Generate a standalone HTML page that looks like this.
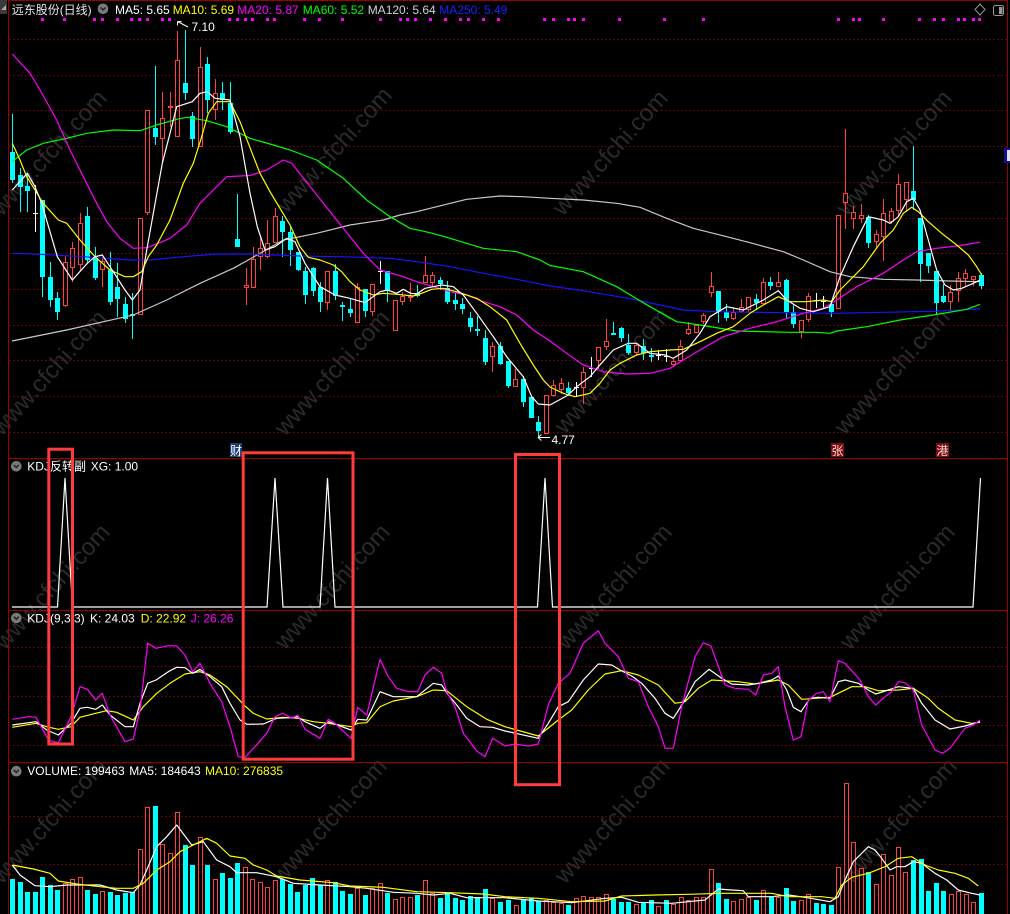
<!DOCTYPE html>
<html><head><meta charset="utf-8">
<style>
html,body{margin:0;padding:0;background:#000;overflow:hidden;}
svg{display:block;}
text{font-family:"Liberation Sans","Noto Sans CJK SC",sans-serif;font-size:12px;}
.wm text{font-size:24px;fill:#2a2a2a;}
</style></head><body>
<svg id="c" width="1010" height="914" viewBox="0 0 1010 914" xmlns="http://www.w3.org/2000/svg">
<rect width="1010" height="914" fill="#000"/>
<!-- watermarks -->
<g class="wm" text-anchor="middle">
<text transform="translate(55,158) rotate(-48)">www.cfchi.com</text>
<text transform="translate(340,155) rotate(-48)">www.cfchi.com</text>
<text transform="translate(616,158) rotate(-48)">www.cfchi.com</text>
<text transform="translate(900,158) rotate(-48)">www.cfchi.com</text>
<text transform="translate(55,378) rotate(-48)">www.cfchi.com</text>
<text transform="translate(338,378) rotate(-48)">www.cfchi.com</text>
<text transform="translate(618,376) rotate(-48)">www.cfchi.com</text>
<text transform="translate(898,377) rotate(-48)">www.cfchi.com</text>
<text transform="translate(58,592) rotate(-48)">www.cfchi.com</text>
<text transform="translate(338,592) rotate(-48)">www.cfchi.com</text>
<text transform="translate(620,592) rotate(-48)">www.cfchi.com</text>
<text transform="translate(903,592) rotate(-48)">www.cfchi.com</text>
<text transform="translate(55,826) rotate(-48)">www.cfchi.com</text>
<text transform="translate(335,826) rotate(-48)">www.cfchi.com</text>
<text transform="translate(618,826) rotate(-48)">www.cfchi.com</text>
<text transform="translate(905,826) rotate(-48)">www.cfchi.com</text>
</g>
<!-- grid -->
<g stroke="#8a0000" stroke-width="1" stroke-dasharray="1.5,2.5">
<line x1="9" y1="39.5" x2="1007" y2="39.5"/>
<line x1="9" y1="75.5" x2="1007" y2="75.5"/>
<line x1="9" y1="110.5" x2="1007" y2="110.5"/>
<line x1="9" y1="146.5" x2="1007" y2="146.5"/>
<line x1="9" y1="182.5" x2="1007" y2="182.5"/>
<line x1="9" y1="218.5" x2="1007" y2="218.5"/>
<line x1="9" y1="253.5" x2="1007" y2="253.5"/>
<line x1="9" y1="289.5" x2="1007" y2="289.5"/>
<line x1="9" y1="325.5" x2="1007" y2="325.5"/>
<line x1="9" y1="360.5" x2="1007" y2="360.5"/>
<line x1="9" y1="396.5" x2="1007" y2="396.5"/>
<line x1="9" y1="432.5" x2="1007" y2="432.5"/>
<line x1="9" y1="647.5" x2="1007" y2="647.5"/>
<line x1="9" y1="666.5" x2="1007" y2="666.5"/>
<line x1="9" y1="696.5" x2="1007" y2="696.5"/>
<line x1="9" y1="725.5" x2="1007" y2="725.5"/>
<line x1="9" y1="745.5" x2="1007" y2="745.5"/>
<line x1="9" y1="816.5" x2="1007" y2="816.5"/>
<line x1="9" y1="864.5" x2="1007" y2="864.5"/>
</g>
<!-- borders -->
<g stroke="#9a0000" stroke-width="1">
<line x1="8" y1="0.5" x2="1008" y2="0.5"/>
<line x1="8.5" y1="0" x2="8.5" y2="914"/>
<line x1="1007.5" y1="0" x2="1007.5" y2="914"/>
<line x1="8" y1="458.5" x2="1008" y2="458.5"/>
<line x1="8" y1="610.5" x2="1008" y2="610.5"/>
<line x1="8" y1="762.5" x2="1008" y2="762.5"/>
</g>
<!-- top-left icon -->
<rect x="0" y="0" width="7" height="14" fill="#3a3a3a"/>
<polygon points="1,10 6,10 6,5" fill="#aaa"/>
<!-- top-right icons -->
<polygon points="980,4 985,9.5 980,15 975,9.5" fill="none" stroke="#999" stroke-width="1"/>
<rect x="993.5" y="5.5" width="10" height="10" rx="2" fill="none" stroke="#999"/>
<rect x="999" y="7" width="3.5" height="7" fill="#999"/>
<!-- right marker -->
<rect x="1004" y="148" width="6" height="15" fill="#101090"/>
<rect x="1007" y="150" width="3" height="11" fill="#e0e0e0"/>

<!-- candles -->
<g id="candles" shape-rendering="crispEdges"></g>

<!-- MAs -->
<g fill="none" stroke-width="1.2" stroke-linejoin="round">
<polyline stroke="#c8c8c8" points="12,341 66.7,330 133.3,315 166.7,300 200,283.3 233.3,268.3 250,259 283.3,240 316.7,233.3 350,225 383.3,220 400,215 416.7,211.7 436.7,206.7 466.7,199.3 500,196 523.3,196.7 550,198.3 583.3,200 616.7,203.3 640,207.3 666.7,218.3 693.3,228.3 726.7,236.7 750,242.7 783.3,251.7 803.3,260 830,271.7 850,276.7 883.3,279.3 916.7,280 950,281 980,281.7"/>
<polyline stroke="#1515ff" points="12.3,253.3 40,254.3 83.3,256.7 130,260 150,260 183.3,256.7 216.7,254 250,254 300,256 340,256.7 390,258.3 416.7,261.7 450,266.7 483.3,273.3 516.7,279.3 550,286 583.3,290.7 633.3,299.3 683.3,310 716.7,311.7 783.3,312.7 833.3,313.3 883.3,312.3 933.3,311.3 980,309"/>
<polyline stroke="#00ff00" points="12.3,161.7 26.7,150 43.3,143.3 66.7,138.3 86.7,133.3 113.3,130 140,130.7 156.7,125 176.7,119.3 186.7,117.3 206.7,120.7 226.7,126.7 250,138.3 270,144 290,150 316.7,160 343.3,178.3 366.7,200 390,216.7 410,228.3 430,232.7 450,238.3 483.3,248.3 516.7,251.7 540,260 550,265.5 583.3,271.7 616.7,286.7 650,306.7 676.7,321.7 700,325 736.7,331 790,332.3 816.7,332.3 830,333.3 836.7,331 866.7,326.7 900,320 933.3,315 966.7,309.3 980,304.3"/>
<polyline stroke="#ff00ff" points="12.3,54 30,73.3 40,90 56.7,120 70,150 83.3,176.7 96.7,203.3 106.7,221.7 120,238.3 133.3,248.3 146.7,247.7 158.3,243.3 170,238.3 186.7,225 200,203.3 213.3,190 226.7,176.7 250,175.5 266.7,170 283.3,160 291.7,163.3 305,180 323.3,203.3 343.3,228.3 363.3,253.3 380,270 403.3,276.7 416.7,281.7 433.3,286.7 450,291.7 466.7,295 483.3,301.7 500,306.7 516.7,315 533.3,330 550,341 566.7,353.3 583.3,365 603.3,371.7 626.7,374 650,373.3 670,368.3 683.3,360 700,350 723.3,336.7 750,328.3 776.7,321.7 803.3,313.3 823.3,308.3 836.7,300 856.7,286.7 883.3,273.3 903.3,260 916.7,251.7 936.7,248.3 956.7,246 980,242.3"/>
<polyline stroke="#ffff00" points="12.3,143.3 20,160 26.7,176.7 43.3,203.3 58.3,220 66.7,223.3 80,240 95,256.7 110,270 125,276.7 133.3,276.7 141.7,271.7 148.3,256.7 156.7,245 170,220 183.3,183.3 193.3,163.3 201.7,136.7 208.3,113.3 216.7,101.7 230,101.7 240,121.7 248.3,143.3 260,173.3 270,191.7 280,208.3 290,225 300,246.7 308.3,257.3 320,260 333.3,265 341.7,271.7 350,281.7 360,290 373.3,295 383.3,293.3 396.7,294.3 413.3,296 423.3,292.7 431.7,289.3 443.3,288.3 456.7,291.7 476.7,298.3 490,306.7 506.7,320 520,343.3 533.3,365 543.3,380 550,387 563.3,393.3 575,396.7 590,393.3 600,383.3 610,370 620,363.3 636.7,355 650,351.7 670,350 683.3,349.3 700,341.7 716.7,333.3 733.3,326.7 750,313.3 763.3,305 778.3,296.7 790,301.7 806.7,301.7 823.3,300 831.7,301.7 840,290 850,280 863.3,266.7 880,243.3 893.3,230 903.3,213.3 911.7,207.3 918.3,211.7 928.3,221.7 941.7,233.3 956.7,245 968.3,255 976.7,266.7 981.7,275"/>
<polyline stroke="#ffffff" points="12.3,190 27.3,173.3 35,186.7 41.7,203.3 57.3,256.7 72.3,280 87.3,263.3 95,256.7 102.3,255 110,266.7 125,290 132.3,300 140,290 147.3,246.7 162.3,163.3 170,133.3 176.7,106.7 192.3,101.7 200,93.3 207.3,91.7 215,98.3 230,100 240,136.7 250,193.3 257.3,226.7 265,250 275,246.7 286.7,238.3 295,241.7 305,263.3 320,286.7 335,295 350,298.3 365,302.7 380,291.7 387.3,290 396.7,293.3 403.3,289.3 410.7,293.3 416.7,294 425,288.3 433.3,286.7 441.7,285 453.3,286.7 463.3,295 476.7,313.3 493.3,336.7 506.7,356.7 523.3,376.7 531.7,396.7 538.3,404 550,405 568.3,395 576.7,386.7 590,376.7 598.3,366.7 613.3,350 628.3,343.3 636.7,343.3 650,353.3 665,355 673.3,358.3 686.7,350 700,333.3 710,316.7 726.7,306.7 743.3,310 763.3,300 778.3,290.7 786.7,300 800,308.3 813.3,311.7 830,306.7 840,276.7 853.3,246.7 868.3,216.7 883.3,220 890,223.3 898.3,216.7 906.7,201.7 913.3,198.3 920,210 928.3,240 936.7,270 945,285 953.3,290 961.7,288.3 973.3,283.3 980,280"/>
</g>

<!-- high / low labels -->
<g stroke="#fff" stroke-width="1" fill="none">
<line x1="177.5" y1="21.5" x2="188" y2="27"/>
<line x1="177.5" y1="21.5" x2="181.5" y2="21.5"/>
<line x1="177.5" y1="21.5" x2="177.5" y2="25.5"/>
<line x1="538" y1="437.5" x2="550" y2="437.5"/>
<line x1="538" y1="437.5" x2="541.5" y2="434.5"/>
<line x1="538" y1="437.5" x2="541.5" y2="440.5"/>
</g>
<text x="191.5" y="31" fill="#fff">7.10</text>
<text x="551.5" y="444" fill="#fff">4.77</text>

<!-- event labels -->
<rect x="230" y="443" width="12" height="14" fill="#1e3c78"/>
<text x="230" y="455" fill="#fff">财</text>
<rect x="831" y="443" width="13" height="14" fill="#7a1010"/>
<text x="831.5" y="455" fill="#ffd0d0">张</text>
<rect x="936" y="443" width="13" height="14" fill="#7a1010"/>
<text x="936.5" y="455" fill="#ffd0d0">港</text>

<!-- magenta dots -->
<g id="dots" fill="#ff00ff" shape-rendering="crispEdges"></g>

<!-- header -->
<text x="11.7" y="14" fill="#e6e6e6">远东股份(日线)</text>
<circle cx="103" cy="8.8" r="5.3" fill="#7a7a7a"/>
<polyline points="100.5,7.5 103,10 105.5,7.5" fill="none" stroke="#222" stroke-width="1.5"/>
<text x="115" y="14" fill="#fff">MA5: 5.65</text>
<text x="172.7" y="14" fill="#ffff00">MA10: 5.69</text>
<text x="237.3" y="14" fill="#ff00ff">MA20: 5.87</text>
<text x="302.7" y="14" fill="#00ff00">MA60: 5.52</text>
<text x="367.7" y="14" fill="#d0d0d0">MA120: 5.64</text>
<text x="439.3" y="14" fill="#2020ff">MA250: 5.49</text>

<!-- KDJ reversal panel -->
<circle cx="16.3" cy="466.3" r="5.3" fill="#7a7a7a"/>
<polyline points="13.8,465 16.3,467.5 18.8,465" fill="none" stroke="#222" stroke-width="1.5"/>
<text x="27.3" y="470.7" fill="#fff">KDJ反转副</text>
<text x="90.7" y="470.7" fill="#fff">XG: 1.00</text>
<polyline fill="none" stroke="#fff" stroke-width="1.2" points="12,607 57.5,607 65,478 72.5,607 267,607 275,478 283,607 320,607 327.5,478 335,607 537.5,607 545,478 552.5,607 973,607 980.5,478"/>

<!-- KDJ panel -->
<circle cx="16.3" cy="618" r="5.3" fill="#7a7a7a"/>
<polyline points="13.8,616.7 16.3,619.2 18.8,616.7" fill="none" stroke="#222" stroke-width="1.5"/>
<text x="27.3" y="622.5" fill="#fff">KDJ(9,3,3)</text>
<text x="90" y="622.5" fill="#fff">K: 24.03</text>
<text x="140.7" y="622.5" fill="#ffff00">D: 22.92</text>
<text x="190.7" y="622.5" fill="#ff00ff">J: 26.26</text>
<g fill="none" stroke-width="1.2" stroke-linejoin="round">
<polyline stroke="#ffff00" points="12.3,727.3 36,723.3 46.7,726.7 58.3,729.3 71,726.7 80,717.3 95.7,713.3 106.7,710.7 116.7,712.3 133.3,720 143.3,706.7 156.7,693.3 170,683.3 185,674 200,671.7 210,675 226.7,686.7 245,706 253.3,713.3 266.7,719 283.3,717.3 297.7,718.3 313.3,721.7 328.3,723.3 351,726.7 357.7,723.3 366.7,722.7 380,706.7 393.3,701 416.7,696.7 433.3,690 446.7,690.7 466.7,706.7 486.7,719.3 505,726.7 538.3,736 558.3,720 571.7,710 588.3,690 605,674 621.7,670.7 638.3,675 658.3,685 675,703.3 685,701.7 698.3,688.3 711.7,680 738.3,681.7 755,684 778.3,680 788.3,685 801.7,699.3 830,697.3 851.7,686.7 865,686.7 878.3,690.7 898.3,690 913.3,688.3 928.3,698.3 938.3,708.3 955,720 971.7,723.3 980,722.3"/>
<polyline stroke="#ffffff" points="12.3,725 36,721.7 46.7,730 58.3,735 71,723.3 80,708.3 87.3,707.3 95.7,709.3 102.3,705 110,715 125,726.7 133.3,726.7 140,703.3 147.7,683.3 156,680 168.3,671.7 176.7,667.3 185,667.7 192.7,673.3 200,669.3 210,676.7 221.7,686.7 230,703.3 240,720 246.7,724.3 263.3,724 276.7,718.3 290,717.7 297.7,716.7 305,721.7 320,728.3 328.3,721.7 351,730 357.7,719.3 366.7,720 380,691.7 393.3,696.7 416.7,696.7 433.3,683.3 441.7,685 448.3,695 456.7,705 466.7,718.3 480,726.7 492.7,727.3 505,731 538.3,738.3 548.3,723.3 558.3,706.7 568.3,701.7 583.3,680 598.3,664 611.7,665 620,670 631.7,676 641.7,683.3 655,698.3 665,713.3 673.3,718.3 685,700 695,681.7 709,669.3 721.7,678.3 731.7,684 748.3,685 758.3,683.3 771.7,680 778.3,676 786.7,690 793.3,707.3 801,711.7 810,698.3 818.3,697.3 830,698.3 838.3,681.7 845,680 858.3,683.3 868.3,690 875.7,694 888.3,690 898.3,686.7 913.3,688.3 921.7,703.3 935,720 950,729 965,726 980,721.7"/>
<polyline stroke="#ff00ff" points="12.3,719.3 28.3,716.7 36,717.3 46.7,736.7 50,740.7 58.3,742.7 71,716.7 80,686.7 87.3,689.3 95.7,700 102.3,693.3 110,715 125,741.7 133.3,739 140,710 147.7,643.3 156,648.3 168.3,645.7 176.7,646 185,655 192.7,671.7 200,663.3 210,683.3 221.7,701.7 230,726.7 238.3,756.7 245,757.3 255,746.7 266.7,733.3 275,716.7 282.7,713.3 291.7,718.3 297.7,715 305,729.3 320,738.3 328.3,719.3 335,723.3 351,738.3 357.7,707.3 366.7,715 380,659.3 388.3,676.7 396.7,688.3 408.3,691.7 417.7,691.7 425,675 433.3,667.3 441.7,673.3 446.7,691.7 455,706.7 463.3,733.3 476.7,751 485,756.7 492.7,738.3 505,746 515,744 528.3,746 538.3,744 548.3,705 558.3,683.3 570,673.3 583.3,643.3 598.3,630.7 605,643.3 618.3,656.7 628.3,678.3 638.3,681.7 648.3,706.7 658.3,726.7 665,748.3 673.3,748.3 681.7,706.7 695,656.7 703.3,642.7 711,646 725,685 735,688.3 748.3,689.3 755.7,695 763.3,675 771.7,673.3 778.3,666.7 785,706.7 793.3,740 801,736.7 808.3,700 816.7,693.3 823.3,691.7 830,701.7 838.3,660.7 845,663.3 860,680 868.3,696.7 875.7,705 885,696.7 891.7,691.7 898.3,681.7 905,682.7 913.3,690 921.7,725 935,750 942.7,753.3 950,748.3 965,728.3 973.3,725 980,720"/>
</g>

<!-- Volume panel -->
<circle cx="16.3" cy="771.2" r="5.3" fill="#7a7a7a"/>
<polyline points="13.8,769.9 16.3,772.4 18.8,769.9" fill="none" stroke="#222" stroke-width="1.5"/>
<text x="27.3" y="775" fill="#fff">VOLUME: 199463</text>
<text x="129.3" y="775" fill="#fff">MA5: 184643</text>
<text x="205" y="775" fill="#ffff00">MA10: 276835</text>
<g id="vol" shape-rendering="crispEdges"></g>
<g fill="none" stroke-width="1.2" stroke-linejoin="round">
<polyline stroke="#ffffff" points="12.3,865 20,875 35,885.7 50,886.7 66.7,885 100,885 116.7,890 133.3,892.7 140,885 146.7,870 156.7,846.7 166.7,836.7 176.7,825 191.7,845 203.3,841.7 216.7,860 230,866.7 236.7,872.7 256.7,872.7 276.7,876.7 293.3,883.3 320,885 350,886.7 366.7,888.3 393.3,892.3 416.7,893.3 433.3,895 450,893.3 466.7,897.7 505,897.7 538.3,901 571.7,902.7 605,898.3 621.7,897.3 638.3,902.3 671.7,903.3 705,900 718.3,889 731.7,890 743.3,890.7 748.3,896.7 771.7,896.7 788.3,895 805,897.3 830,901.7 838.3,896.7 845,880 853.3,861.7 861.7,853.3 868.3,846.7 875,850 881.7,858.3 890,870 896.7,866.7 905,866.7 913.3,861.7 921.7,863.3 935,873.3 946.7,880 958.3,890 971.7,893.3 980,895"/>
<polyline stroke="#ffff00" points="12.3,865 33.3,869 50,873.3 58.3,881 76.7,884 100,886.7 116.7,888.3 133.3,888.3 143.3,883.3 156.7,870 170,861.7 180,851.7 193.3,845 206.7,838.3 216.7,843.3 230,856 245,858.3 253.3,865 266.7,870 276.7,876 300,880 333.3,882.7 350,886 383.3,887.3 416.7,891.7 450,892.7 483.3,894 505,896.7 538.3,898.3 571.7,901.7 605,901 621.7,896 655,895 688.3,894.3 721.7,893.3 771.7,893.3 788.3,896.7 821.7,896.7 835,898.3 841.7,885 851.7,877.3 868.3,873.3 885,866.7 898.3,858.3 911.7,856.7 925,865 938.3,870 955,873.3 968.3,878.3 978.3,886"/>
</g>

<!-- annotation boxes -->
<g fill="none" stroke="#ff3b3b" stroke-width="3">
<rect x="48.8" y="449.2" width="23.7" height="294.8"/>
<rect x="243.2" y="452.8" width="109.8" height="306.4"/>
<rect x="515.5" y="454.5" width="44" height="330.2"/>
</g>
</svg>
<script>
(function(){
var RED="#ff4040",CY="#00ffff";
var C=[[12.3,1,151.7,180,114,183],[20,1,175,186.7,168,212],[27.3,1,185.7,191,173,212],[35,2,213,213,185,231.7],[42.3,1,200,276.7,200,296.7],[50,1,276.7,300,261.7,306.7],[57.3,1,297.7,311.7,291.7,320],[65,0,262.3,306,255.7,306.7],[72.3,0,248.3,268.3,242.3,281.7],[80,0,223.3,265,213.3,270],[87.3,1,216,260,206.7,263.3],[95,1,256.7,278.3,246.7,280],[102.3,0,260.7,270,256.7,286.7],[110,1,270,301.7,251.7,305],[117.3,1,287.3,299.3,263.3,316.7],[125,1,304.3,319.3,296.7,323.3],[132.3,1,314,316,293,339],[140,0,218.3,315,218.3,315],[147.3,0,110,213.3,110,215],[155,1,127.7,136.7,66,145],[162.3,0,118.3,139.3,92.3,161.7],[170,0,105.7,107.3,91.7,126.7],[176.7,0,60,136.7,31,136.7],[185,1,83.3,92.7,30,100],[192.3,1,116,139.3,111.7,147.3],[200,0,66.7,146.7,46.7,146.7],[207.3,1,64,100,56.7,113.3],[215,0,93.3,110,79.3,120],[222.3,1,92.7,100,81.7,110],[230,1,102.7,131.7,81.7,134],[237.3,1,239,247.3,194,247.3],[245.7,0,285,288,268,305],[252.7,0,259.3,287.7,246.7,287.7],
[260,0,248.3,256.7,236,270],[267.3,0,243.3,257.3,220,258.3],[275,0,216,243.3,208.3,243.3],[282.3,1,220.7,231.7,216,256.7],[290,1,231.7,250,227.3,266],[297.7,1,252.3,270,252.3,270.7],[305,1,270.7,295,266.7,304],[312.7,1,268.3,290.7,266.7,296],[320,1,286.7,301.7,281.7,311.7],[327.3,0,271,302.7,271,310],[335,1,271,295.7,264.3,300],[342.3,1,305,307,302.3,320.7],[350,1,309,313.3,298.3,317.3],[357.3,0,286.7,323.3,283.3,323.3],[365,1,289,311,289,316.7],[372.3,0,284.3,311.7,284.3,315.7],[380,2,270.7,270.7,260.7,284],[387.3,1,271,290,271,301.7],[395.3,0,300,330.7,300,330.7],[402.3,0,296,302.3,291.7,305],[410,0,295.7,297.7,283.3,301.7],[416.7,1,293,295.7,285,296.7],[425,0,275,282.7,256,282.7],[432.3,0,275,282.7,272.3,286.7],[440,1,280,284.3,277.3,290],[447.3,1,288.3,301.7,280.7,304],[455,1,300,304,293.3,310],[462.3,1,304,309.3,298.3,314],[470,1,318.3,326.7,312.3,331.7],[477.3,1,329,331,315.7,335.7],[485,1,338.3,362.3,330,365],[492.3,0,345.7,357.3,342.3,371.7],[500,1,346,364,341.7,365],[507.7,1,360.7,385.7,360.7,388.3],[515,0,379.3,386.7,369,386.7],[523.3,1,379,401.7,375.7,406.7],[530.7,1,397.3,417.7,397.3,417.7],[538.3,1,422.3,431,415.7,437],[545.7,0,395,434.3,395,434.3],
[553.3,0,385,396,380,396.7],[560.7,0,383.3,390,377.7,394],[568.3,1,387.7,393.3,381.7,396],[575.7,2,386.7,386.7,381.7,396.7],[583.3,0,372.3,388.3,367.3,404.3],[590.7,2,368.3,368.3,356.7,376.7],[598.3,0,346.7,361,346.7,369.3],[605.7,0,340.7,346.7,319,350],[613.3,1,333.3,335,321.7,335],[620.7,1,328.3,338.3,326.7,341.7],[628.3,1,345,353.3,334,355],[635.7,0,345,353.3,342.7,356],[643.3,1,346,353.3,339.3,360],[650.7,1,355,356.7,348.3,361.7],[658.3,2,355,355,350,360],[665.7,2,356,356,349.3,361.7],[673.3,0,361,365,359.3,367.3],[680,0,346,360.7,340,361.7],[688.3,0,329.3,334.3,321.7,335],[695.7,0,325,332.7,325,332.7],[703.3,0,315,321.7,312.7,324],[710.7,0,285.7,293.3,271.7,296.7],[718.3,1,291,311.7,291,322.7],[725.7,1,312.3,317.7,304,320.7],[733.3,0,311.7,319,308.3,320],[740.7,0,307.3,311.7,299,313.3],[748.3,0,296.7,310,296.7,311.7],[755.7,1,299.3,302.7,294,310],[763.3,0,282.3,304,278.3,304],[770,1,282.3,285.7,276.7,290],[778.3,0,282.3,286.7,272.3,287.3],[785.7,1,280,311.7,279.3,319],[793.3,1,311.7,324.3,305,328.3],[800.7,0,320,331.7,320,337.7],[808.3,0,295.7,320,293.3,321.7],[815.7,2,300,300,293.3,308.3],[823.3,2,300.7,300.7,295.7,308.3],[830.7,1,304,311.7,300,317.3],[838.3,0,215,309.3,215,309.3],[845,0,193.3,203.3,129.3,229.3],[853.3,0,211.7,219,206,229.3],[860.7,0,215,219,204.3,223.3],[868.3,1,216.7,242.7,215,247.7],[875.7,0,234,241.7,230,248.3],[883.3,0,212.7,237.3,199.3,260.7],[890.7,0,211,221.7,208.3,224],[898.3,0,184.3,211,174.3,216.7],[905.7,0,182.3,200,181.7,211.7],[913.3,1,191,200,146,210],[920,1,217.7,264,217.7,281.7],[928.3,1,252.7,265.7,252.7,272.7],[935.7,1,271,303.3,271,314],[943.3,1,296,301.7,284,303.3],[950,0,291.7,301.7,285,310],[958.3,0,277.7,291,271.7,301.7],[965,0,273.3,279.3,269,285.7],[973.3,0,275.7,280,275.7,285.7],[980.7,1,275,285.7,273.3,289]];
function ln(x1,y1,x2,y2,c){return '<line x1="'+x1+'" y1="'+y1+'" x2="'+x2+'" y2="'+y2+'" stroke="'+c+'" stroke-width="1"/>';}
var s='';
for(var i=0;i<C.length;i++){
 var d=C[i],n=Math.round(d[0]),X=n+0.5,t=d[1],a=Math.round(d[2]),b=Math.round(d[3]),h=Math.round(d[4]),l=Math.round(d[5]);
 if(t==1){
  s+=ln(X,h,X,l,CY);
  s+='<rect x="'+(n-2)+'" y="'+a+'" width="5" height="'+Math.max(1,b-a)+'" fill="'+CY+'"/>';
 }else if(t==0){
  if(b-a<1)b=a+1;
  if(h<a)s+=ln(X,h,X,a,RED);
  if(l>b)s+=ln(X,b,X,l,RED);
  s+='<rect x="'+(X-2)+'" y="'+(a+0.5)+'" width="4" height="'+Math.max(1,b-a-1)+'" fill="none" stroke="'+RED+'" stroke-width="1"/>';
 }else{
  s+=ln(X,h,X,l,"#ffffff");
  s+=ln(n-2,a+0.5,n+3,a+0.5,"#ffffff");
 }
}
document.getElementById('candles').innerHTML=s;
var V=[[12.3,1,879],[20,1,882],[27.3,1,892],[35,1,892],[42.3,1,877],[50,1,885.3],[57.3,1,890],[65,0,883.3],[72.3,0,879.3],[80,0,877.3],[87.3,1,890],[95,1,894],[102.3,0,891.3],[110,1,892],[117.3,1,895],[125,1,893.3],[132.3,1,891.7],[140,0,849.3],[147.3,0,807.3],[155,1,806],[162.3,0,844.3],[170,0,853.3],[176.7,0,812.3],[185,1,845],[192.3,1,865],[200,0,836.7],[207.3,1,865],[215,0,879.3],[222.3,1,873.3],[230,1,878],[237.3,1,863.3],[245,0,867.3],[252.3,0,879.3],[260,0,882.3],[267.3,0,886.7],[275,0,880],[282.3,1,879.3],[290,1,884],[297.3,1,892],[305,1,885.3],[312.3,1,878],[320,1,885.3],[327.3,0,880.3],[335,1,882],[342.3,1,891],[350,1,894],[357.3,0,888.3],[365,1,895],[372.3,0,888.3],[380,0,883.3],[387.3,1,893],[395,0,899.3],[402.3,0,897.3],[410,0,897.3],[417.3,1,895],[425,0,880],[432.3,0,893.3],[440,1,898],[447.3,1,893.3],[455,1,898],[462.3,1,900],[470,1,896],[477.3,1,896.7],[485,1,889],[492.3,0,898.3],[500,1,902],
[508.3,1,900],[515.7,0,905],[523.3,1,899],[530.7,1,898.3],[538.3,1,900.7],[545.7,0,900],[553.3,0,902],[560.7,0,903.3],[568.3,1,905],[575.7,0,898.3],[583.3,0,896],[590.7,0,897.3],[598.3,0,896.7],[605.7,0,894.3],[613.3,1,899.3],[620.7,1,902],[628.3,1,902],[635.7,0,904],[643.3,1,902.3],[650.7,1,900],[658.3,0,906],[665.7,1,900],[673.3,0,904],[680.7,0,897.3],[688.3,0,900],[695.7,0,897.3],[703.3,0,897.3],[710.7,0,869.3],[718.3,1,883.3],[725.7,1,899],[733.3,0,901],[740.7,0,899.3],[748.3,0,897.3],[755.7,1,900],[763.3,0,890],[770.7,1,896.7],[778.3,0,896.7],[785.7,1,888.3],[793.3,1,901],[800.7,0,900],[808.3,0,894.3],[815.7,1,903.3],[823.3,1,904],[830.7,1,905],[838.3,0,866.7],[845.7,0,782.7],[853.3,0,842.3],[860.7,0,868.3],[868.3,1,872.3],[875.7,0,884.3],[883.3,0,854.3],[890.7,0,875.3],[898.3,0,847.3],[905,0,872.3],[913.3,1,860],[920.7,1,859.3],[928.3,1,891],[935.7,1,883.3],[943.3,1,891],[950.7,0,894.3],[958.3,0,891],[965.7,0,894.3],[973.3,0,901.7],[980.7,1,893.3]];
var v='';
for(var j=0;j<V.length;j++){
 var e=V[j],m=Math.round(e[0]),top=Math.round(e[2]);
 if(e[1]==1){v+='<rect x="'+(m-2)+'" y="'+top+'" width="5" height="'+(914-top)+'" fill="'+CY+'"/>';}
 else{v+='<rect x="'+(m-1.5)+'" y="'+(top+0.5)+'" width="4" height="'+(914-top)+'" fill="none" stroke="'+RED+'" stroke-width="1"/>';}
}
document.getElementById('vol').innerHTML=v;
var D=[41.7,64.3,94.3,101.7,116.7,131,139.3,146.7,161.7,169.3,229.3,236.7,245,251.7,266.7,274.3,304.3,319.3,341.7,380,400,407.3,415,430,445,460,467.7,482.7,497.7,544.3,552.7,567.7,574.3,582.7,619.3,664.3,702.7,837.7,852.7,859.3,882.7,919.3,934.3,942.7,957.7,964.3,972.7,979.3];
var ds='';
for(var k=0;k<D.length;k++){ds+='<rect x="'+(Math.round(D[k])-1)+'" y="18" width="3" height="3"/>';}
document.getElementById('dots').innerHTML=ds;
})();
</script>
</body></html>
